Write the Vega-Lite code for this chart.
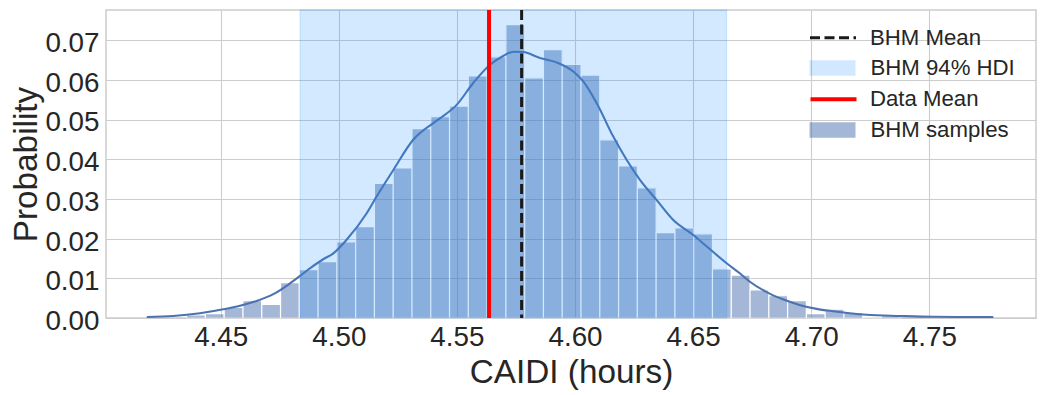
{
  "$schema": "https://vega.github.io/schema/vega-lite/v6.json",
  "autosize": {"type": "none"},
  "padding": {"left": 106, "top": 10, "right": 9, "bottom": 77},
  "width": 930,
  "height": 308,
  "background": "white",
  "config": {
    "font": "Liberation Sans",
    "view": {"stroke": "#cccccc", "strokeWidth": 1.5},
    "axis": {
      "domain": false,
      "ticks": false,
      "tickSize": 0,
      "grid": true,
      "gridColor": "#cccccc",
      "gridWidth": 1.1,
      "labelFont": "Liberation Sans",
      "labelFontSize": 27.8,
      "labelColor": "#262626",
      "labelFlush": false,
      "labelOverlap": false,
      "titleFont": "Liberation Sans",
      "titleFontSize": 33.3,
      "titleFontWeight": "normal",
      "titleColor": "#262626"
    },
    "legend": {
      "title": null,
      "orient": "none",
      "padding": 0,
      "labelFont": "Liberation Sans",
      "labelFontSize": 22.2,
      "labelColor": "#262626",
      "labelOffset": 25.5,
      "symbolSize": 529
    }
  },
  "datasets": {
    "hist": [
      {"bin_start": 4.43557, "bin_end": 4.44352, "prob": 0.0008},
      {"bin_start": 4.44352, "bin_end": 4.45147, "prob": 0.0011},
      {"bin_start": 4.45147, "bin_end": 4.45942, "prob": 0.0027},
      {"bin_start": 4.45942, "bin_end": 4.46737, "prob": 0.0044},
      {"bin_start": 4.46737, "bin_end": 4.47533, "prob": 0.0034},
      {"bin_start": 4.47533, "bin_end": 4.48328, "prob": 0.0089},
      {"bin_start": 4.48328, "bin_end": 4.49123, "prob": 0.0122},
      {"bin_start": 4.49123, "bin_end": 4.49918, "prob": 0.0142},
      {"bin_start": 4.49918, "bin_end": 4.50713, "prob": 0.0192},
      {"bin_start": 4.50713, "bin_end": 4.51508, "prob": 0.0230},
      {"bin_start": 4.51508, "bin_end": 4.52303, "prob": 0.0339},
      {"bin_start": 4.52303, "bin_end": 4.53098, "prob": 0.0378},
      {"bin_start": 4.53098, "bin_end": 4.53893, "prob": 0.0477},
      {"bin_start": 4.53893, "bin_end": 4.54688, "prob": 0.0507},
      {"bin_start": 4.54688, "bin_end": 4.55484, "prob": 0.0534},
      {"bin_start": 4.55484, "bin_end": 4.56279, "prob": 0.0610},
      {"bin_start": 4.56279, "bin_end": 4.57074, "prob": 0.0658},
      {"bin_start": 4.57074, "bin_end": 4.57869, "prob": 0.0739},
      {"bin_start": 4.57869, "bin_end": 4.58664, "prob": 0.0605},
      {"bin_start": 4.58664, "bin_end": 4.59459, "prob": 0.0676},
      {"bin_start": 4.59459, "bin_end": 4.60254, "prob": 0.0639},
      {"bin_start": 4.60254, "bin_end": 4.61049, "prob": 0.0612},
      {"bin_start": 4.61049, "bin_end": 4.61844, "prob": 0.0449},
      {"bin_start": 4.61844, "bin_end": 4.62639, "prob": 0.0383},
      {"bin_start": 4.62639, "bin_end": 4.63435, "prob": 0.0328},
      {"bin_start": 4.63435, "bin_end": 4.64230, "prob": 0.0215},
      {"bin_start": 4.64230, "bin_end": 4.65025, "prob": 0.0227},
      {"bin_start": 4.65025, "bin_end": 4.65820, "prob": 0.0212},
      {"bin_start": 4.65820, "bin_end": 4.66615, "prob": 0.0124},
      {"bin_start": 4.66615, "bin_end": 4.67410, "prob": 0.0108},
      {"bin_start": 4.67410, "bin_end": 4.68205, "prob": 0.0071},
      {"bin_start": 4.68205, "bin_end": 4.69000, "prob": 0.0056},
      {"bin_start": 4.69000, "bin_end": 4.69795, "prob": 0.0044},
      {"bin_start": 4.69795, "bin_end": 4.70590, "prob": 0.0011},
      {"bin_start": 4.70590, "bin_end": 4.71386, "prob": 0.0022},
      {"bin_start": 4.71386, "bin_end": 4.72181, "prob": 0.0014},
      {"bin_start": 4.72181, "bin_end": 4.72976, "prob": 0.0002},
      {"bin_start": 4.72976, "bin_end": 4.73771, "prob": 0.0006}
    ],
    "kde": [
      {"x": 4.4187, "y": 0.00025},
      {"x": 4.4299, "y": 0.0005},
      {"x": 4.4412, "y": 0.0012},
      {"x": 4.4511, "y": 0.0022},
      {"x": 4.4582, "y": 0.0031},
      {"x": 4.4652, "y": 0.0043},
      {"x": 4.4723, "y": 0.0060},
      {"x": 4.4793, "y": 0.0087},
      {"x": 4.4836, "y": 0.0106},
      {"x": 4.4864, "y": 0.0119},
      {"x": 4.4934, "y": 0.0148},
      {"x": 4.4977, "y": 0.0163},
      {"x": 4.5033, "y": 0.0197},
      {"x": 4.5118, "y": 0.0264},
      {"x": 4.5160, "y": 0.0306},
      {"x": 4.5231, "y": 0.0373},
      {"x": 4.5315, "y": 0.0449},
      {"x": 4.5400, "y": 0.0491},
      {"x": 4.5428, "y": 0.0503},
      {"x": 4.5499, "y": 0.0537},
      {"x": 4.5569, "y": 0.0592},
      {"x": 4.5640, "y": 0.0638},
      {"x": 4.5696, "y": 0.0660},
      {"x": 4.5739, "y": 0.0671},
      {"x": 4.5781, "y": 0.0670},
      {"x": 4.5852, "y": 0.0655},
      {"x": 4.5922, "y": 0.0644},
      {"x": 4.5993, "y": 0.0621},
      {"x": 4.6035, "y": 0.0596},
      {"x": 4.6092, "y": 0.0541},
      {"x": 4.6162, "y": 0.0457},
      {"x": 4.6219, "y": 0.0398},
      {"x": 4.6275, "y": 0.0348},
      {"x": 4.6346, "y": 0.0297},
      {"x": 4.6416, "y": 0.0247},
      {"x": 4.6501, "y": 0.0209},
      {"x": 4.6558, "y": 0.0180},
      {"x": 4.6642, "y": 0.0138},
      {"x": 4.6699, "y": 0.0112},
      {"x": 4.6739, "y": 0.0092},
      {"x": 4.6809, "y": 0.0066},
      {"x": 4.6880, "y": 0.0047},
      {"x": 4.6950, "y": 0.0033},
      {"x": 4.7023, "y": 0.0023},
      {"x": 4.7093, "y": 0.0017},
      {"x": 4.7163, "y": 0.0012},
      {"x": 4.7234, "y": 0.0008},
      {"x": 4.7375, "y": 0.0005},
      {"x": 4.7517, "y": 0.0003},
      {"x": 4.7771, "y": 0.00025}
    ],
    "hdi": [{"lo": 4.48357, "hi": 4.6642}],
    "bhm_mean": [{"x": 4.5774}],
    "data_mean": [{"x": 4.5636}]
  },
  "layer": [
    {
      "data": {"name": "hist"},
      "mark": {"type": "rect", "opacity": 0.5, "stroke": "white", "strokeWidth": 1.2},
      "encoding": {
        "x": {
          "field": "bin_start", "type": "quantitative", "title": "CAIDI (hours)",
          "scale": {"domain": [4.40144, 4.79517], "nice": false, "zero": false},
          "axis": {
            "values": [4.45, 4.5, 4.55, 4.6, 4.65, 4.7, 4.75],
            "format": ".2f",
            "labelBaseline": "alphabetic",
            "labelPadding": 27,
            "titleBaseline": "alphabetic",
            "titleY": 64
          }
        },
        "x2": {"field": "bin_end"},
        "y": {
          "field": "prob", "type": "quantitative", "title": "Probability",
          "scale": {"domain": [0, 0.0776], "nice": false},
          "axis": {
            "values": [0, 0.01, 0.02, 0.03, 0.04, 0.05, 0.06, 0.07],
            "format": ".2f",
            "labelBaseline": "alphabetic",
            "labelOffset": 11.4,
            "labelPadding": 7,
            "titleAngle": 270,
            "titleBaseline": "alphabetic",
            "titleAlign": "center",
            "titleX": -70,
            "titleY": 154
          }
        },
        "y2": {"datum": 0},
        "color": {
          "datum": "BHM samples",
          "type": "nominal",
          "scale": {"domain": ["BHM samples"], "range": ["#4c72b0"]},
          "legend": {
            "legendX": 714,
            "legendY": 107.5,
            "symbolType": "M-2,-0.68H2V0.68H-2Z",
            "symbolOpacity": 0.5,
            "symbolStrokeColor": "transparent"
          }
        }
      }
    },
    {
      "data": {"name": "kde"},
      "mark": {"type": "line", "color": "#4c72b0", "strokeWidth": 2.1, "interpolate": "monotone"},
      "encoding": {
        "x": {"field": "x", "type": "quantitative", "title": "CAIDI (hours)"},
        "y": {"field": "y", "type": "quantitative", "title": "Probability"}
      }
    },
    {
      "data": {"name": "hdi"},
      "mark": {"type": "rect", "fillOpacity": 0.2, "stroke": "#1e90ff", "strokeOpacity": 0.2, "strokeWidth": 1},
      "encoding": {
        "x": {"field": "lo", "type": "quantitative", "title": "CAIDI (hours)"},
        "x2": {"field": "hi"},
        "fill": {
          "datum": "BHM 94% HDI",
          "type": "nominal",
          "scale": {"domain": ["BHM 94% HDI"], "range": ["#1e90ff"]},
          "legend": {
            "legendX": 714,
            "legendY": 45.5,
            "symbolType": "M-2,-0.68H2V0.68H-2Z",
            "symbolOpacity": 0.2,
            "symbolStrokeColor": "transparent"
          }
        }
      }
    },
    {
      "data": {"name": "bhm_mean"},
      "mark": {"type": "rule", "color": "#1a1a1a", "strokeWidth": 3},
      "encoding": {
        "x": {"field": "x", "type": "quantitative", "title": "CAIDI (hours)"},
        "strokeDash": {
          "datum": "BHM Mean",
          "type": "nominal",
          "scale": {"domain": ["BHM Mean"], "range": [[10, 4.5]]},
          "legend": {
            "legendX": 714,
            "legendY": 14.8,
            "labelOffset": 24,
            "symbolType": "M-2,0H2",
            "symbolStrokeWidth": 3,
            "symbolStrokeColor": "#1a1a1a"
          }
        }
      }
    },
    {
      "data": {"name": "data_mean"},
      "mark": {"type": "rule", "strokeWidth": 4},
      "encoding": {
        "x": {"field": "x", "type": "quantitative", "title": "CAIDI (hours)"},
        "stroke": {
          "datum": "Data Mean",
          "type": "nominal",
          "scale": {"domain": ["Data Mean"], "range": ["#ff0000"]},
          "legend": {
            "legendX": 714,
            "legendY": 75.8,
            "labelOffset": 23,
            "symbolType": "M-2,0H2",
            "symbolStrokeWidth": 4
          }
        }
      }
    }
  ]
}
